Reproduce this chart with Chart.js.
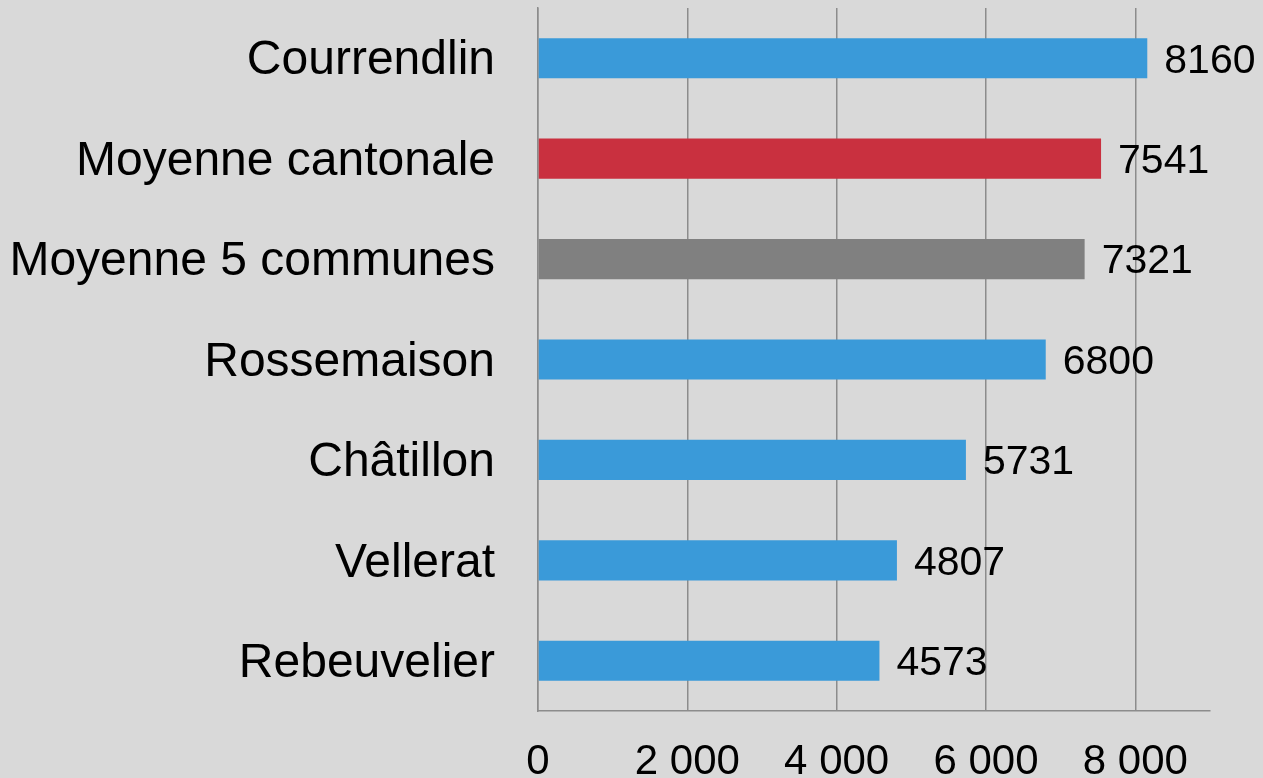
<!DOCTYPE html>
<html>
<head>
<meta charset="utf-8">
<script src="https://cdn.jsdelivr.net/npm/chart.js@4/dist/chart.umd.min.js"></script>
<style>
html,body{margin:0;padding:0;background:#d9d9d9;overflow:hidden;}
#wrap{width:1263px;height:778px;position:relative;}
</style>
</head>
<body>
<div id="wrap"><canvas id="c"></canvas></div>
<script>
const categories = ["Courrendlin","Moyenne cantonale","Moyenne 5 communes","Rossemaison","Châtillon","Vellerat","Rebeuvelier"];
const values = [8160, 7541, 7321, 6800, 5731, 4807, 4573];
const barColors = ["#3a9ad9","#c9303f","#808080","#3a9ad9","#3a9ad9","#3a9ad9","#3a9ad9"];
const tickValues = [0, 2000, 4000, 6000, 8000];

const FONT = "'Liberation Sans', Arial, sans-serif";

const valueLabels = {
  id: 'valueLabels',
  afterDatasetsDraw(chart) {
    const ctx = chart.ctx;
    const meta = chart.getDatasetMeta(0);
    ctx.save();
    ctx.font = "41px " + FONT;
    ctx.fillStyle = "#000";
    ctx.textAlign = "left";
    ctx.textBaseline = "middle";
    meta.data.forEach((bar, i) => {
      ctx.fillText(String(values[i]), bar.x + 17, bar.y + 3);
    });
    ctx.restore();
  }
};

new Chart(document.getElementById('c'), {
  type: 'bar',
  data: {
    labels: categories,
    datasets: [{
      data: values,
      backgroundColor: barColors,
      borderWidth: 0,
      barPercentage: 0.5,
      categoryPercentage: 0.8
    }]
  },
  options: {
    indexAxis: 'y',
    responsive: true,
    maintainAspectRatio: false,
    animation: false,
    layout: { padding: { top: 8, right: 53, left: 0, bottom: 0 } },
    plugins: { legend: { display: false }, tooltip: { enabled: false } },
    scales: {
      x: {
        min: 0, max: 9000,
        afterBuildTicks(scale) { scale.ticks = tickValues.map(v => ({ value: v })); },
        afterFit(scale) { scale.height = 67; scale.paddingLeft = 0; scale.paddingRight = 0; scale.paddingTop = 0; scale.paddingBottom = 0; },
        grid: { color: "#8c8c8c", lineWidth: 1.5, drawTicks: false },
        border: { color: "#8c8c8c", width: 1.5 },
        ticks: {
          padding: 26,
          color: "#000",
          font: { family: FONT, size: 42 },
          callback: (v) => String(v).replace(/\B(?=(\d{3})+(?!\d))/g, " ")
        }
      },
      y: {
        afterFit(scale) { scale.width = 538; scale.paddingTop = 0; scale.paddingBottom = 0; scale.paddingLeft = 0; scale.paddingRight = 0; },
        grid: { display: false, drawTicks: false },
        border: { color: "#8c8c8c", width: 1.5 },
        ticks: {
          padding: 43,
          labelOffset: 3,
          color: "#000",
          font: { family: FONT, size: 48 }
        }
      }
    }
  },
  plugins: [valueLabels]
});
</script>
</body>
</html>
